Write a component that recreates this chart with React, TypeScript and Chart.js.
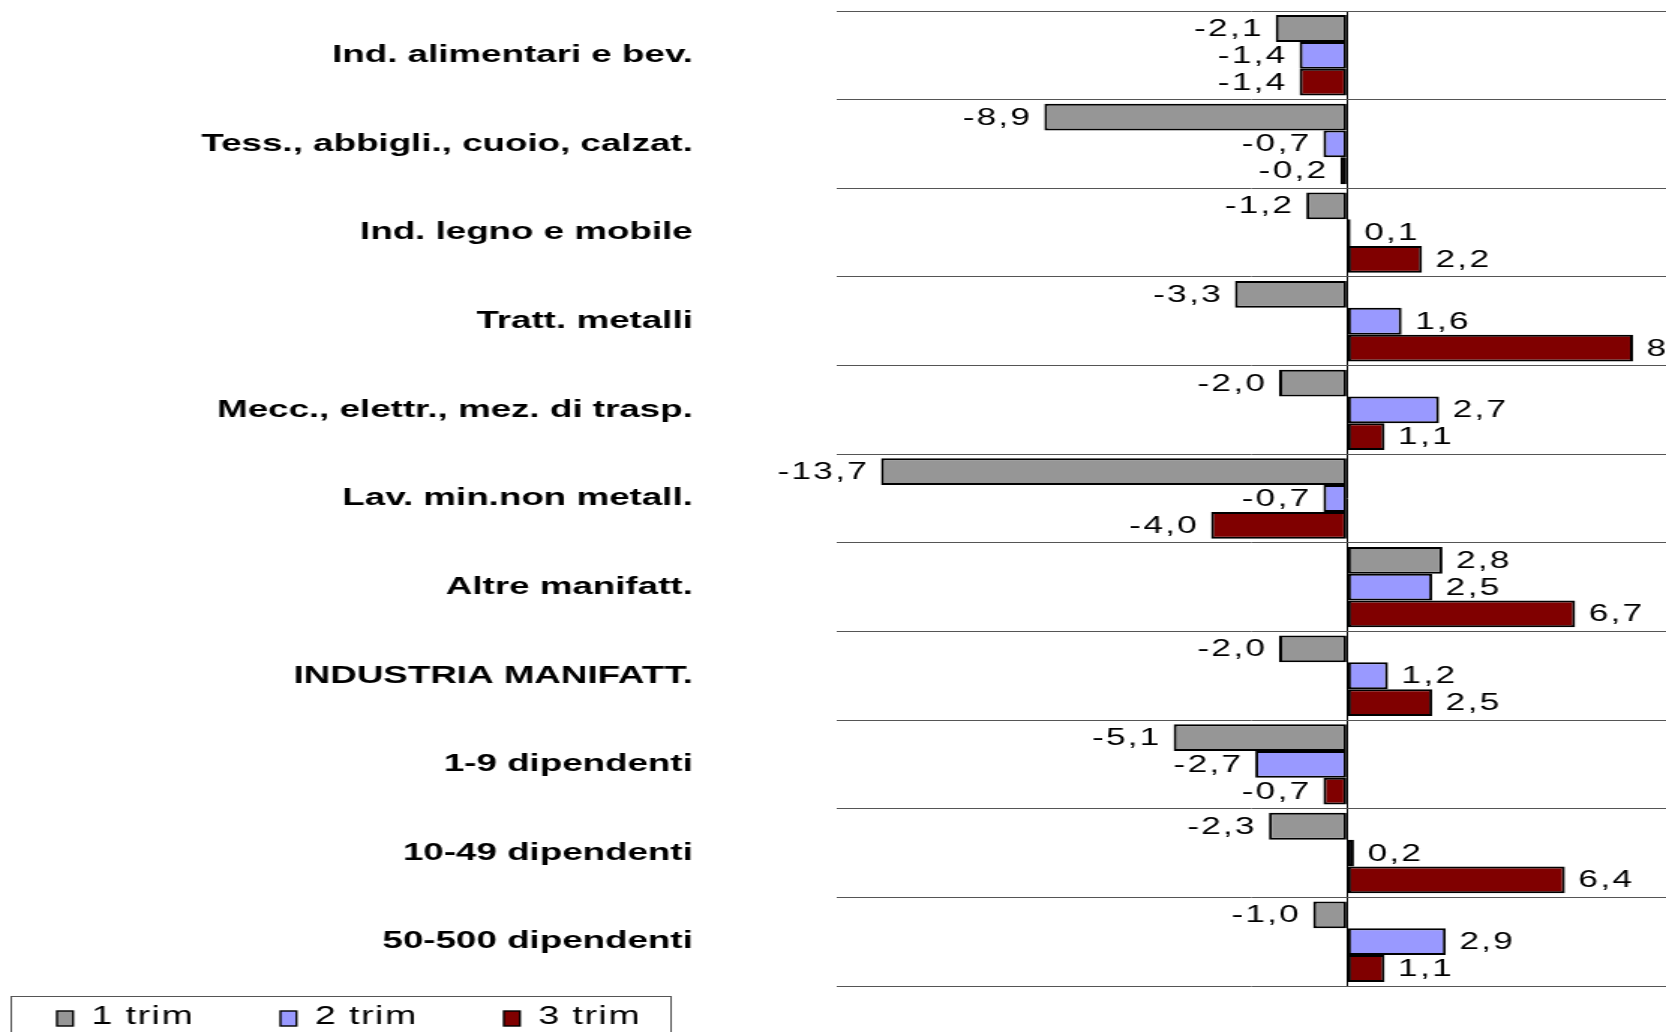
import React, { useEffect, useRef } from 'react';
import { Chart, registerables } from 'chart.js';

Chart.register(...registerables);

// ---- data ----
const categories = [
  'Ind. alimentari e bev.',
  'Tess., abbigli., cuoio, calzat.',
  'Ind. legno e mobile',
  'Tratt. metalli',
  'Mecc., elettr., mez. di trasp.',
  'Lav. min.non metall.',
  'Altre manifatt.',
  'INDUSTRIA MANIFATT.',
  '1-9 dipendenti',
  '10-49 dipendenti',
  '50-500 dipendenti',
];
const seriesLabels = ['1 trim', '2 trim', '3 trim'];
const trim1 = [-2.1, -8.9, -1.2, -3.3, -2.0, -13.7, 2.8, -2.0, -5.1, -2.3, -1.0];
const trim2 = [-1.4, -0.7, 0.1, 1.6, 2.7, -0.7, 2.5, 1.2, -2.7, 0.2, 2.9];
const trim3 = [-1.4, -0.2, 2.2, 8.4, 1.1, -4.0, 6.7, 2.5, -0.7, 6.4, 1.1];
const seriesColors = ['#969696', '#9999FF', '#800000'];
const xMin = -15;
const xMax = 9.37;

// ---- layout (logical canvas units; canvas is stretched horizontally by CSS) ----
const LOGICAL_W = 1111;
const H = 1032;
const DISPLAY_W = 1666;
const FONT = '"Liberation Sans", Arial, sans-serif';

const fmt = (v: number) => v.toFixed(1).replace('.', ',');

const valueLabels = {
  id: 'valueLabels',
  afterDatasetsDraw(chart: any) {
    const ctx = chart.ctx;
    ctx.save();
    ctx.font = `23.5px ${FONT}`;
    (ctx as any).letterSpacing = '1.5px';
    ctx.fillStyle = '#000';
    ctx.textBaseline = 'middle';
    chart.data.datasets.forEach((ds: any, i: number) => {
      const meta = chart.getDatasetMeta(i);
      meta.data.forEach((el: any, j: number) => {
        const v = ds.data[j] as number;
        const { x, y } = el.getProps(['x', 'y'], true);
        if (v < 0) {
          ctx.textAlign = 'right';
          ctx.fillText(fmt(v), x - 8, y + 1);
        } else {
          ctx.textAlign = 'left';
          ctx.fillText(fmt(v), x + 9, y + 1);
        }
      });
    });
    ctx.restore();
  },
};

const boxLegend = {
  id: 'boxLegend',
  afterDraw(chart: any) {
    const ctx = chart.ctx;
    ctx.save();
    ctx.strokeStyle = '#555';
    ctx.lineWidth = 1;
    ctx.strokeRect(7.5, 996.5, 440, 60);
    ctx.font = `25px ${FONT}`;
    (ctx as any).letterSpacing = '1px';
    ctx.textBaseline = 'middle';
    ctx.textAlign = 'left';
    chart.data.datasets.forEach((ds: any, i: number) => {
      const sx = 38 + i * 149;
      ctx.fillStyle = ds.backgroundColor;
      ctx.fillRect(sx, 1011, 10.7, 15);
      ctx.strokeStyle = '#000';
      ctx.lineWidth = 1.4;
      ctx.strokeRect(sx, 1011, 10.7, 15);
      ctx.fillStyle = '#000';
      ctx.fillText(ds.label, sx + 23, 1017);
    });
    ctx.restore();
  },
};

export default function App() {
  const ref = useRef<HTMLCanvasElement | null>(null);

  useEffect(() => {
    if (!ref.current) return;
    const series = [trim1, trim2, trim3];
    const chart = new Chart(ref.current, {
      type: 'bar',
      data: {
        labels: categories,
        datasets: series.map((d, i) => ({
          label: seriesLabels[i],
          data: d,
          backgroundColor: seriesColors[i],
          borderColor: '#000',
          borderWidth: 2,
          borderSkipped: false,
          categoryPercentage: 0.907,
          barPercentage: 1,
        })),
      },
      options: {
        indexAxis: 'y',
        responsive: false,
        animation: false,
        devicePixelRatio: 1,
        layout: { padding: { top: 11, bottom: 46, left: 0, right: 0 } },
        plugins: {
          legend: { display: false },
          tooltip: { enabled: false },
          title: { display: false },
        },
        scales: {
          x: {
            type: 'linear',
            min: xMin,
            max: xMax,
            ticks: { display: false, stepSize: 5 },
            border: { display: false },
            grid: {
              drawTicks: false,
              lineWidth: 1,
              color: (c: any) => (c.tick && c.tick.value === 0 ? '#000' : 'rgba(0,0,0,0)'),
            },
            afterFit: (s: any) => {
              s.height = 0;
              s.paddingLeft = 0;
              s.paddingRight = 0;
            },
          },
          y: {
            type: 'category',
            border: { display: false },
            grid: {
              offset: true,
              drawTicks: false,
              lineWidth: 1,
              color: (c: any) => (c.index === categories.length ? '#000' : '#555'),
            },
            ticks: {
              autoSkip: false,
              padding: 96,
              color: '#000',
              font: { family: FONT, size: 24.5, weight: 'bold' },
            },
            afterFit: (s: any) => {
              s.width = 558;
              s.paddingTop = 0;
              s.paddingBottom = 0;
            },
          },
        },
      },
      plugins: [valueLabels, boxLegend],
    } as any);
    return () => chart.destroy();
  }, []);

  return (
    <div
      style={{
        position: 'fixed',
        left: 0,
        top: 0,
        width: DISPLAY_W,
        height: H,
        overflow: 'hidden',
        background: '#fff',
      }}
    >
      <canvas
        ref={ref}
        width={LOGICAL_W}
        height={H}
        style={{ width: `${DISPLAY_W}px`, height: `${H}px`, display: 'block' }}
      />
    </div>
  );
}
